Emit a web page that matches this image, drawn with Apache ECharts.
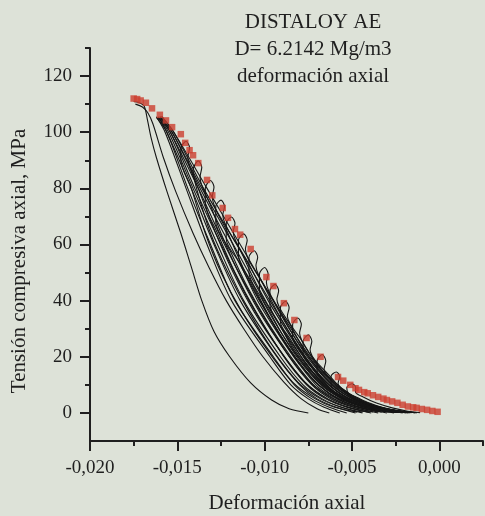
<!DOCTYPE html>
<html><head><meta charset="utf-8">
<script src="https://cdn.jsdelivr.net/npm/echarts@6/dist/echarts.min.js"></script>
<style>html,body{margin:0;padding:0;background:#dde2d8;}#c{width:485px;height:516px;}</style>
</head><body><div id="c"></div>
<script>
const titleLines = ['DISTALOY AE', 'D= 6.2142 Mg/m3', 'deformación axial'];
const xName = 'Deformación axial';
const yName = 'Tensión compresiva axial, MPa';
const xTicks = [-0.020, -0.015, -0.010, -0.005, 0.000];
const xMinorTicks = [-0.0175, -0.0125, -0.0075, -0.0025, 0.0025];
const yTicks = [0, 20, 40, 60, 80, 100, 120];
const yMinorTicks = [10, 30, 50, 70, 90, 110, 130];

// red envelope markers
const envelope = [[-0.0175,112],[-0.0173,111.8],[-0.0171,111.3],[-0.0168,110.5],[-0.01645,108.5],[-0.0160,106.2],[-0.01565,104.2],[-0.0153,101.8],[-0.0148,99.3],[-0.01455,96.2],[-0.0143,93.6],[-0.0141,91.8],[-0.0138,89],[-0.0133,83],[-0.0130,77.5],[-0.0124,73],[-0.0121,69.5],[-0.0117,65.5],[-0.0114,63.5],[-0.0108,58.4],[-0.0099,48.4],[-0.0095,45.2],[-0.0089,39.1],[-0.0083,33.1],[-0.0076,26.7],[-0.0068,20],[-0.0058,12.8],[-0.0055,11.5],[-0.0051,10],[-0.0048,8.8],[-0.0046,8.2],[-0.0043,7.4],[-0.0041,7],[-0.0038,6.3],[-0.0035,5.7],[-0.0032,5.1],[-0.0030,4.6],[-0.0027,4.1],[-0.0024,3.6],[-0.0021,2.9],[-0.0018,2.3],[-0.0015,2.0],[-0.0013,1.8],[-0.0010,1.4],[-0.0007,1.1],[-0.0004,0.7],[-0.0001,0.4]];

// black curves (monotone loading curves)
const curveA = [[-0.0175,111],[-0.0172,110.6],[-0.0169,109.3],[-0.0167,104],[-0.0165,98],[-0.0162,91],[-0.0156,79],[-0.0148,64],[-0.0142,52],[-0.0136,40],[-0.0129,29],[-0.0120,20],[-0.0108,10.7],[-0.0096,4.6],[-0.0086,1.5],[-0.0075,0]];
const curveB = [[-0.0174,110],[-0.0170,109],[-0.0167,107],[-0.0164,103],[-0.0158,91],[-0.0151,79],[-0.0141,64],[-0.0132,52],[-0.0122,40],[-0.0112,30],[-0.0101,20],[-0.0089,11],[-0.0079,5],[-0.0070,1.5],[-0.0063,0]];
const bundle1 = [[-0.0162,105.5],[-0.0157,100],[-0.0145,80],[-0.0133,60],[-0.0119,40],[-0.0097,20],[-0.0085,10],[-0.0075,5],[-0.0066,2],[-0.0057,0]];
const bundle2 = [[-0.0162,105.3],[-0.0156,100],[-0.0144,80],[-0.0131,60],[-0.0117,40],[-0.0095,20],[-0.0083,10],[-0.0073,5],[-0.0063,2],[-0.0053,0]];
const bundle3 = [[-0.0161,105.5],[-0.0156,100],[-0.0142,80],[-0.0129,60],[-0.0114,40],[-0.0093,20],[-0.0080,10],[-0.0070,5],[-0.0059,2],[-0.0048,0]];
const bundle4 = [[-0.0161,105.2],[-0.0155,100],[-0.0141,80],[-0.0127,60],[-0.0112,40],[-0.0091,20],[-0.0078,10],[-0.0067,5],[-0.0056,2],[-0.0044,0]];
const bundle5 = [[-0.0161,105.4],[-0.0154,100],[-0.0140,80],[-0.0125,60],[-0.0109,40],[-0.0089,20],[-0.0076,10],[-0.0065,5],[-0.0053,2],[-0.0039,0]];
const bundle6 = [[-0.0160,105.5],[-0.0154,100],[-0.0138,80],[-0.0123,60],[-0.0106,40],[-0.0086,20],[-0.0073,10],[-0.0062,5],[-0.0049,2],[-0.0035,0]];
const bundle7 = [[-0.0160,105.3],[-0.0153,100],[-0.0137,80],[-0.0120,60],[-0.0103,40],[-0.0083,20],[-0.0069,10],[-0.0058,5],[-0.0045,2],[-0.0030,0]];
const bundle8 = [[-0.0160,105.6],[-0.0153,100],[-0.0136,80],[-0.0118,60],[-0.0100,40],[-0.0080,20],[-0.0066,10],[-0.0055,5],[-0.0041,2],[-0.0026,0]];
const bundle9 = [[-0.0159,105.5],[-0.0152,100],[-0.0135,80],[-0.0116,60],[-0.0097,40],[-0.0077,20],[-0.0063,10],[-0.0052,5],[-0.0038,2],[-0.0021,0]];
const bundle10 = [[-0.0159,105.7],[-0.0152,100],[-0.0133,80],[-0.0114,60],[-0.0095,40],[-0.0074,20],[-0.0060,10],[-0.0048,5],[-0.0034,2],[-0.0017,0]];

// unloading/reloading loops, each closing with a small arch at the envelope
const cycle96 = [[-0.0047,0.3],[-0.0060,2],[-0.0071,5],[-0.0084,11],[-0.0098,22],[-0.0113,36],[-0.0125,50],[-0.0134,64],[-0.0142,80],[-0.0148,90],[-0.0148,94],[-0.0145,96.8],[-0.0143,94.5],[-0.0144,91],[-0.0138,80],[-0.0128,64],[-0.0118,50],[-0.0106,36],[-0.0091,22],[-0.0077,11],[-0.0064,5],[-0.0052,2],[-0.0041,0.3]];
const cycle89 = [[-0.0044,0.3],[-0.0056,2],[-0.0068,5],[-0.0081,11],[-0.0095,22],[-0.0109,36],[-0.0121,50],[-0.0131,64],[-0.0139,80],[-0.0141,86.5],[-0.0138,89.8],[-0.0136,87.5],[-0.0137,84],[-0.0131,74],[-0.0125,64],[-0.0115,50],[-0.0103,36],[-0.0088,22],[-0.0074,11],[-0.0061,5],[-0.0049,2],[-0.0038,0.3]];
const cycle82 = [[-0.0040,0.3],[-0.0052,2],[-0.0064,5],[-0.0077,11],[-0.0091,22],[-0.0105,36],[-0.0117,50],[-0.0127,64],[-0.0134,75],[-0.0134,80],[-0.0131,82.8],[-0.0129,80.5],[-0.0130,77],[-0.0121,64],[-0.0111,50],[-0.0099,36],[-0.0085,22],[-0.0071,11],[-0.0058,5],[-0.0046,2],[-0.0035,0.3]];
const cycle75 = [[-0.0033,0.3],[-0.0047,2],[-0.0060,5],[-0.0072,10],[-0.0085,20],[-0.0098,32],[-0.0110,45],[-0.0120,58],[-0.0128,68],[-0.0128,73.5],[-0.0125,75.8],[-0.0123,73.5],[-0.0124,70.5],[-0.0114,58],[-0.0104,45],[-0.0092,32],[-0.0079,20],[-0.0066,10],[-0.0054,5],[-0.0041,2],[-0.0028,0.3]];
const cycle69 = [[-0.0029,0.3],[-0.0044,1.8],[-0.0057,4.5],[-0.0069,9],[-0.0081,18],[-0.0092,28],[-0.0104,40],[-0.0114,53],[-0.0122,62],[-0.0122,67.5],[-0.0119,69.8],[-0.0117,67.5],[-0.0118,64.5],[-0.0109,53],[-0.0098,40],[-0.0086,28],[-0.0075,18],[-0.0063,9],[-0.0051,4.5],[-0.0038,1.8],[-0.0024,0.3]];
const cycle63 = [[-0.0025,0.2],[-0.0038,1.4],[-0.0051,3.5],[-0.0063,7],[-0.0074,13],[-0.0086,23],[-0.0097,34],[-0.0107,46],[-0.0115,56],[-0.0115,61.5],[-0.0112,63.8],[-0.0110,61.5],[-0.0111,58.5],[-0.0101,46],[-0.0091,34],[-0.0080,23],[-0.0068,13],[-0.0057,7],[-0.0045,3.5],[-0.0032,1.4],[-0.0020,0.2]];
const cycle57 = [[-0.0021,0.2],[-0.0033,1],[-0.0045,2.5],[-0.0057,5.5],[-0.0069,11],[-0.0081,20],[-0.0092,30],[-0.0102,41],[-0.0109,50],[-0.0109,55.5],[-0.0106,57.8],[-0.0104,55.5],[-0.0105,52.5],[-0.0096,41],[-0.0086,30],[-0.0075,20],[-0.0063,11],[-0.0051,5.5],[-0.0039,2.5],[-0.0027,1],[-0.0016,0.2]];
const cycle51 = [[-0.0019,0.1],[-0.0030,0.7],[-0.0042,2],[-0.0054,4.5],[-0.0066,9],[-0.0078,17],[-0.0088,26],[-0.0097,36],[-0.0103,44],[-0.0103,49.5],[-0.0100,51.8],[-0.0098,49.5],[-0.0099,46.5],[-0.0091,36],[-0.0082,26],[-0.0072,17],[-0.0060,9],[-0.0048,4.5],[-0.0036,2],[-0.0024,0.7],[-0.0014,0.1]];
const cycle45 = [[-0.0018,0.1],[-0.0028,0.5],[-0.0040,1.6],[-0.0051,3.8],[-0.0062,7.5],[-0.0073,14],[-0.0083,22],[-0.0091,31],[-0.0097,38.5],[-0.0097,43.5],[-0.0094,45.8],[-0.0092,43.5],[-0.0093,40.5],[-0.0085,31],[-0.0077,22],[-0.0067,14],[-0.0056,7.5],[-0.0045,3.8],[-0.0034,1.6],[-0.0022,0.5],[-0.0013,0.1]];
const cycle39 = [[-0.0023,0.2],[-0.0034,1],[-0.0045,2.6],[-0.0056,5.5],[-0.0067,11],[-0.0077,18],[-0.0085,26],[-0.0091,32.5],[-0.0091,37.5],[-0.0088,39.8],[-0.0086,37.5],[-0.0087,34.5],[-0.0079,26],[-0.0071,18],[-0.0061,11],[-0.0050,5.5],[-0.0039,2.6],[-0.0028,1],[-0.0018,0.2]];
const cycle33 = [[-0.0019,0.1],[-0.0029,0.5],[-0.0040,1.7],[-0.0051,4],[-0.0061,8],[-0.0070,14],[-0.0079,21],[-0.0084,27],[-0.0084,31.5],[-0.0081,33.8],[-0.0079,31.5],[-0.0080,28.5],[-0.0074,21],[-0.0064,14],[-0.0055,8],[-0.0045,4],[-0.0034,1.7],[-0.0023,0.5],[-0.0014,0.1]];
const cycle27 = [[-0.0022,0.2],[-0.0033,1],[-0.0044,2.6],[-0.0055,5.5],[-0.0065,10],[-0.0073,16],[-0.0078,21],[-0.0078,25.5],[-0.0075,27.8],[-0.0073,25.5],[-0.0074,22.5],[-0.0068,16],[-0.0059,10],[-0.0049,5.5],[-0.0038,2.6],[-0.0027,1],[-0.0017,0.2]];
const cycle20 = [[-0.0018,0.1],[-0.0028,0.7],[-0.0038,2],[-0.0048,4],[-0.0057,7],[-0.0065,11],[-0.0070,15],[-0.0070,18.5],[-0.0067,20.8],[-0.0065,18.5],[-0.0066,15.5],[-0.0060,11],[-0.0052,7],[-0.0043,4],[-0.0033,2],[-0.0023,0.7],[-0.0013,0.1]];
const cycle14 = [[-0.0021,0.2],[-0.0031,1],[-0.0041,2.4],[-0.0050,4.5],[-0.0058,7.5],[-0.0062,10],[-0.0062,13],[-0.0059,14.6],[-0.0057,13],[-0.0058,10.5],[-0.0053,7.5],[-0.0045,4.5],[-0.0036,2.4],[-0.0026,1],[-0.0016,0.2]];
const cycle10 = [[-0.0016,0.1],[-0.0023,0.6],[-0.0032,1.8],[-0.0040,3.5],[-0.0047,5.5],[-0.0052,7],[-0.0053,9],[-0.0050,10.4],[-0.0048,9.2],[-0.0048,7.5],[-0.0043,5.5],[-0.0036,3.5],[-0.0027,1.8],[-0.0018,0.6],[-0.0011,0.1]];

const mainCurves = [curveA, curveB, bundle1, bundle2, bundle3, bundle4, bundle5, bundle6, bundle7, bundle8, bundle9, bundle10];
const cycleCurves = [cycle96, cycle89, cycle82, cycle75, cycle69, cycle63, cycle57, cycle51, cycle45, cycle39, cycle33, cycle27, cycle20, cycle14, cycle10];

const FONT = "'Liberation Serif', 'Times New Roman', serif";
const INK = '#1f1f1f';
const LINE = '#151515';
const fmt = v => v.toFixed(3).replace('.', ',');

const series = [];
mainCurves.concat(cycleCurves).forEach(d => series.push({
  type: 'line', data: d, showSymbol: false, smooth: 0.3,
  lineStyle: { color: LINE, width: 1.1 }, silent: true, z: 2
}));
series.push({
  type: 'scatter', data: envelope, symbol: 'rect', symbolSize: 6.5,
  itemStyle: { color: '#cc3f2f' }, silent: true, z: 5
});

const graphics = titleLines.map((t, i) => ({
  type: 'text', x: 313, y: 22 + i * 27,
  style: { text: t, font: '21px ' + FONT, fill: INK, textAlign: 'center', textVerticalAlign: 'middle' }
}));
graphics.push({
  type: 'text', x: 287, y: 503,
  style: { text: xName, font: '21px ' + FONT, fill: INK, textAlign: 'center', textVerticalAlign: 'middle' }
});
graphics.push({
  type: 'text', x: 19, y: 261, rotation: Math.PI / 2,
  style: { text: yName, font: '21px ' + FONT, fill: INK, textAlign: 'center', textVerticalAlign: 'middle' }
});

const chart = echarts.init(document.getElementById('c'), null, { renderer: 'canvas' });
chart.setOption({
  animation: false,
  backgroundColor: '#dde2d8',
  grid: { left: 90, right: 2, top: 48, bottom: 75, containLabel: false, outerBoundsMode: 'none' },
  xAxis: [{
    type: 'value', min: -0.020, max: 0.0025, position: 'bottom',
    axisLine: { show: true, onZero: false, lineStyle: { color: INK, width: 2 } },
    axisTick: { show: true, customValues: xTicks, length: 10, lineStyle: { color: INK, width: 2 } },
    axisLabel: { customValues: xTicks, formatter: fmt, fontFamily: FONT, fontSize: 19, color: INK, margin: 18 },
    splitLine: { show: false }
  }, {
    type: 'value', min: -0.020, max: 0.0025, position: 'bottom',
    axisLine: { show: false, onZero: false },
    axisTick: { show: true, customValues: xMinorTicks, length: 5, lineStyle: { color: INK, width: 2 } },
    axisLabel: { show: false },
    splitLine: { show: false }
  }],
  yAxis: [{
    type: 'value', min: -10, max: 130, position: 'left',
    axisLine: { show: true, onZero: false, lineStyle: { color: INK, width: 2 } },
    axisTick: { show: true, customValues: yTicks, length: 10, lineStyle: { color: INK, width: 2 } },
    axisLabel: { customValues: yTicks, fontFamily: FONT, fontSize: 19, color: INK, margin: 18 },
    splitLine: { show: false }
  }, {
    type: 'value', min: -10, max: 130, position: 'left',
    axisLine: { show: false, onZero: false },
    axisTick: { show: true, customValues: yMinorTicks, length: 5, lineStyle: { color: INK, width: 2 } },
    axisLabel: { show: false },
    splitLine: { show: false }
  }],
  graphic: graphics,
  series: series
});
</script></body></html>
